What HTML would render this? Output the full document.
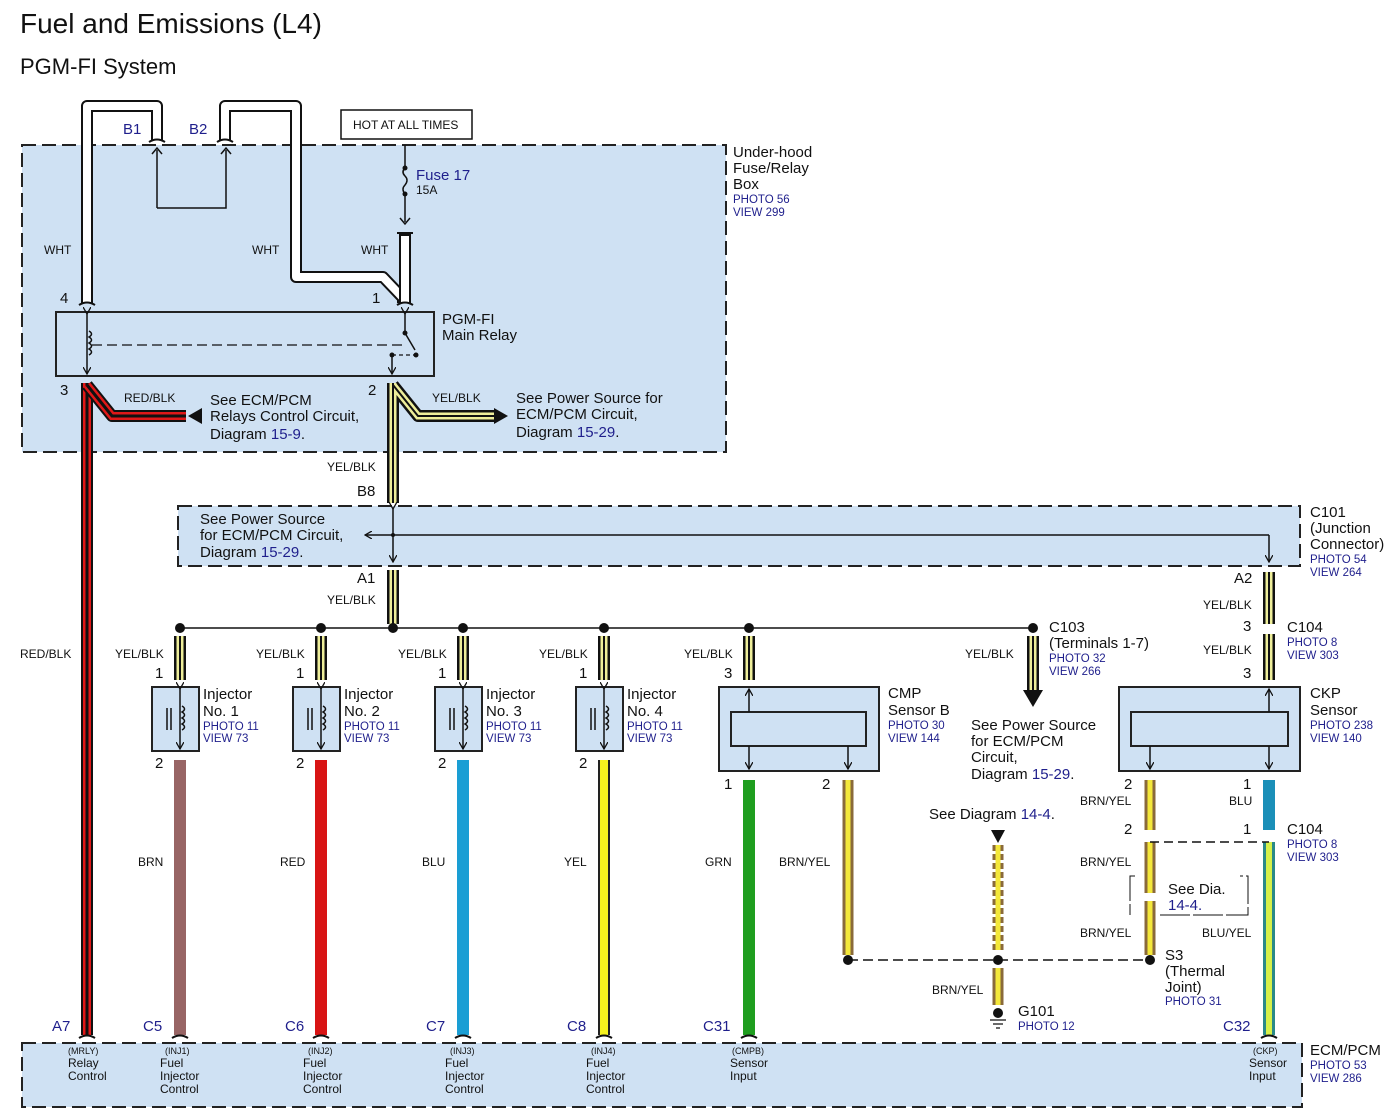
<!DOCTYPE html>
<html><head><meta charset="utf-8"><style>
html,body{margin:0;padding:0;background:#fff;}
svg{display:block;font-family:"Liberation Sans",sans-serif;}
.box{fill:#cfe1f3;stroke:#222;stroke-width:2;stroke-dasharray:14 6;}
.sol{fill:#cfe1f3;stroke:#222;stroke-width:2;}
.ln{stroke:#111;stroke-width:1.5;fill:none;}
.wo{stroke:#111;stroke-width:12;fill:none;stroke-linejoin:round;}
.ww{stroke:#fff;stroke-width:8;fill:none;stroke-linejoin:round;}
.wy{stroke:#eeee9a;stroke-width:7;fill:none;}
.wr{stroke:#e01818;stroke-width:8;fill:none;}
.wk{stroke:#111;stroke-width:2;fill:none;}
.wk3{stroke:#111;stroke-width:3;fill:none;}
.b{fill:#1f1f8c;}
.t{fill:#111;}
.s{font-size:12px;fill:#111;}
.p{font-size:11.5px;fill:#1f1f8c;}
.m{font-size:15px;fill:#111;}
</style></head><body>
<svg width="1399" height="1119" viewBox="0 0 1399 1119" xmlns="http://www.w3.org/2000/svg">
<defs>
<marker id="ah" markerWidth="8" markerHeight="8" refX="7" refY="4" orient="auto" markerUnits="userSpaceOnUse"><path d="M0,0 L7,4 L0,8" fill="none" stroke="#111" stroke-width="1.3"/></marker>
</defs>
<text x="20" y="33" font-size="28" class="t">Fuel and Emissions (L4)</text>
<text x="20" y="74" font-size="22" class="t">PGM-FI System</text>

<!-- boxes -->
<rect class="box" x="22" y="145" width="704" height="307"/>
<rect class="box" x="178" y="506" width="1122" height="60"/>
<rect class="box" x="22" y="1043" width="1280" height="64"/>

<!-- HOT box -->
<rect x="341" y="110" width="131" height="29" fill="#fff" stroke="#111" stroke-width="1.5"/>
<text x="353" y="129" font-size="12" class="t">HOT AT ALL TIMES</text>

<!-- white wires -->
<path class="wo" d="M87,303 L87,106 L157,106 L157,140"/>
<path class="ww" d="M87,303 L87,106 L157,106 L157,140"/>
<path class="wo" d="M225,140 L225,106 L296,106 L296,277 L383,277 L403,298 L403,303"/>
<path class="ww" d="M225,140 L225,106 L296,106 L296,277 L383,277 L403,298 L403,303"/>
<path class="wo" d="M405,233 L405,303"/>
<path class="ww" d="M405,236 L405,303"/>
<!-- caps -->
<g stroke="#111" stroke-width="2" fill="none">
<path d="M149,142 q8,-5 16,0"/><path d="M217,142 q8,-5 16,0"/>
<path d="M79,305 q8,-5 16,0"/><path d="M397,305 q8,-5 16,0"/>
<path d="M397,233 l16,0"/>
</g>
<!-- B1-B2 inner -->
<path class="ln" d="M157,208 L157,150 M157,208 L226,208 L226,150" />
<path class="ln" d="M152,154 l5,-6 l5,6 M221,154 l5,-6 l5,6"/>
<!-- fuse -->
<path class="ln" d="M405,145 L405,168 M405,194 L405,222"/>
<path class="ln" d="M405,168 q-4,4 0,8 q4,4 0,9 q-4,4 0,9"/>
<circle cx="405" cy="168" r="2.5" fill="#111"/><circle cx="405" cy="194" r="2.5" fill="#111"/>
<path class="ln" d="M400,218 l5,6 l5,-6"/>
<text x="416" y="180" font-size="15" class="b">Fuse 17</text>
<text x="416" y="194" class="s" font-size="11">15A</text>

<text x="44" y="254" class="s">WHT</text>
<text x="252" y="254" class="s">WHT</text>
<text x="361" y="254" class="s">WHT</text>
<text x="123" y="134" font-size="15" class="b">B1</text>
<text x="189" y="134" font-size="15" class="b">B2</text>

<text x="733" y="157" class="m">Under-hood</text>
<text x="733" y="173" class="m">Fuse/Relay</text>
<text x="733" y="189" class="m">Box</text>
<text x="733" y="203" class="p">PHOTO 56</text>
<text x="733" y="216" class="p">VIEW 299</text>

<!-- relay -->
<rect class="sol" x="56" y="312" width="378" height="64"/>
<text x="60" y="303" class="m">4</text><text x="372" y="303" class="m">1</text>
<text x="60" y="395" class="m">3</text><text x="368" y="395" class="m">2</text>
<text x="442" y="324" class="m">PGM-FI</text>
<text x="442" y="340" class="m">Main Relay</text>
<path class="ln" d="M87,314 L87,374" marker-start="url(#ah)" marker-end="url(#ah)"/>
<path class="ln" d="M89,331 q5,3 0,6 q5,3 0,6 q5,3 0,6 q5,3 0,6"/>
<path d="M92,345 L405,345" stroke="#111" stroke-width="1.2" stroke-dasharray="10 5"/>
<path class="ln" d="M405,314 L405,333 L415,350" marker-start="url(#ah)"/>
<circle cx="405" cy="333" r="2.5" fill="#111"/><circle cx="416" cy="355" r="2.5" fill="#111"/>
<path d="M392,355 L414,355" stroke="#111" stroke-width="1.2" stroke-dasharray="4 3"/>
<path class="ln" d="M392,353 L392,374" marker-end="url(#ah)"/>
<circle cx="392" cy="355" r="2.5" fill="#111"/>

<!-- red/blk -->
<path class="wo" d="M87,383 L87,1035" stroke-width="13"/>
<path class="wr" d="M87,383 L87,1035" stroke-width="9"/>
<path class="wk3" d="M87,383 L87,1035"/>
<path class="wo" d="M87,385 L112,416 L186,416" stroke-width="13"/>
<path class="wr" d="M87,385 L112,416 L186,416" stroke-width="9"/>
<path class="wk3" d="M87,385 L112,416 L186,416"/>
<path d="M188,416 L202,408 L202,424 Z" fill="#111"/>
<text x="124" y="402" class="s">RED/BLK</text>
<text x="210" y="405" class="m">See ECM/PCM</text>
<text x="210" y="421" class="m">Relays Control Circuit,</text>
<text x="210" y="439" class="m"><tspan fill="#111">Diagram </tspan><tspan class="b">15-9</tspan>.</text>
<text x="20" y="658" class="s">RED/BLK</text>

<!-- yel/blk main -->
<g>
<path class="wo" d="M393,383 L393,503 M393,570 L393,624 M393,385 L418,416 L494,416"/>
<path class="wy" d="M393,383 L393,503 M393,570 L393,624 M393,385 L418,416 L494,416"/>
<path class="wk" d="M393,383 L393,503 M393,570 L393,624 M393,385 L418,416 L494,416"/>
</g>
<path d="M508,416 L494,408 L494,424 Z" fill="#111"/>
<text x="432" y="402" class="s">YEL/BLK</text>
<text x="516" y="403" class="m">See Power Source for</text>
<text x="516" y="419" class="m">ECM/PCM Circuit,</text>
<text x="516" y="437" class="m"><tspan fill="#111">Diagram </tspan><tspan class="b">15-29</tspan>.</text>
<text x="327" y="471" class="s">YEL/BLK</text>
<text x="357" y="496" class="m">B8</text>
<text x="357" y="583" class="m">A1</text>
<text x="327" y="604" class="s">YEL/BLK</text>

<!-- C101 -->
<path class="ln" d="M393,509 L393,562" marker-start="url(#ah)" marker-end="url(#ah)"/>
<path class="ln" d="M1269,535 L365,535" marker-end="url(#ah)"/>
<path class="ln" d="M1269,535 L1269,562" marker-end="url(#ah)"/>
<circle cx="393" cy="535" r="2" fill="#111"/>
<text x="200" y="524" class="m">See Power Source</text>
<text x="200" y="540" class="m">for ECM/PCM Circuit,</text>
<text x="200" y="557" class="m"><tspan fill="#111">Diagram </tspan><tspan class="b">15-29</tspan>.</text>
<text x="1310" y="517" class="m">C101</text>
<text x="1310" y="533" class="m">(Junction</text>
<text x="1310" y="549" class="m">Connector)</text>
<text x="1310" y="563" class="p">PHOTO 54</text>
<text x="1310" y="576" class="p">VIEW 264</text>

<!-- bus -->
<path class="ln" d="M180,628 L1033,628"/>
<g fill="#111">
<circle cx="180" cy="628" r="5"/><circle cx="321" cy="628" r="5"/><circle cx="393" cy="628" r="5"/>
<circle cx="463" cy="628" r="5"/><circle cx="604" cy="628" r="5"/><circle cx="749" cy="628" r="5"/><circle cx="1033" cy="628" r="5"/>
</g>

<!-- short yel/blk stubs -->
<g>
<path class="wo" d="M180,636 L180,680 M321,636 L321,680 M463,636 L463,680 M604,636 L604,680 M749,636 L749,680 M1033,636 L1033,690 M1269,572 L1269,624 M1269,634 L1269,680"/>
<path class="wy" d="M180,636 L180,680 M321,636 L321,680 M463,636 L463,680 M604,636 L604,680 M749,636 L749,680 M1033,636 L1033,690 M1269,572 L1269,624 M1269,634 L1269,680"/>
<path class="wk" d="M180,636 L180,680 M321,636 L321,680 M463,636 L463,680 M604,636 L604,680 M749,636 L749,680 M1033,636 L1033,690 M1269,572 L1269,624 M1269,634 L1269,680"/>
</g>
<path d="M1023,690 L1043,690 L1033,707 Z" fill="#111"/>

<!-- injector labels -->
<text x="115" y="658" class="s">YEL/BLK</text><text x="256" y="658" class="s">YEL/BLK</text>
<text x="398" y="658" class="s">YEL/BLK</text><text x="539" y="658" class="s">YEL/BLK</text>
<text x="684" y="658" class="s">YEL/BLK</text><text x="965" y="658" class="s">YEL/BLK</text>
<text x="155" y="678" class="m">1</text><text x="296" y="678" class="m">1</text><text x="438" y="678" class="m">1</text><text x="579" y="678" class="m">1</text><text x="724" y="678" class="m">3</text>

<!-- injectors -->
<g>
<rect class="sol" x="152" y="687" width="47" height="64"/>
<rect class="sol" x="293" y="687" width="47" height="64"/>
<rect class="sol" x="435" y="687" width="47" height="64"/>
<rect class="sol" x="576" y="687" width="47" height="64"/>
</g>
<g>
<path class="ln" d="M180,689 L180,749" marker-start="url(#ah)" marker-end="url(#ah)"/>
<path class="ln" d="M321,689 L321,749" marker-start="url(#ah)" marker-end="url(#ah)"/>
<path class="ln" d="M463,689 L463,749" marker-start="url(#ah)" marker-end="url(#ah)"/>
<path class="ln" d="M604,689 L604,749" marker-start="url(#ah)" marker-end="url(#ah)"/>
<path class="ln" d="M167,708 L167,730 M171,708 L171,730 M308,708 L308,730 M312,708 L312,730 M450,708 L450,730 M454,708 L454,730 M591,708 L591,730 M595,708 L595,730"/>
<path class="ln" d="M182,706 q5,3 0,6 q5,3 0,6 q5,3 0,6 q5,3 0,6 M323,706 q5,3 0,6 q5,3 0,6 q5,3 0,6 q5,3 0,6 M465,706 q5,3 0,6 q5,3 0,6 q5,3 0,6 q5,3 0,6 M606,706 q5,3 0,6 q5,3 0,6 q5,3 0,6 q5,3 0,6"/>
</g>
<g>
<text x="203" y="699" class="m">Injector</text><text x="203" y="716" class="m">No. 1</text><text x="203" y="730" class="p">PHOTO 11</text><text x="203" y="742" class="p">VIEW 73</text>
<text x="344" y="699" class="m">Injector</text><text x="344" y="716" class="m">No. 2</text><text x="344" y="730" class="p">PHOTO 11</text><text x="344" y="742" class="p">VIEW 73</text>
<text x="486" y="699" class="m">Injector</text><text x="486" y="716" class="m">No. 3</text><text x="486" y="730" class="p">PHOTO 11</text><text x="486" y="742" class="p">VIEW 73</text>
<text x="627" y="699" class="m">Injector</text><text x="627" y="716" class="m">No. 4</text><text x="627" y="730" class="p">PHOTO 11</text><text x="627" y="742" class="p">VIEW 73</text>
</g>
<text x="155" y="768" class="m">2</text><text x="296" y="768" class="m">2</text><text x="438" y="768" class="m">2</text><text x="579" y="768" class="m">2</text>

<!-- colored wires -->
<path d="M180,760 L180,1035" stroke="#986565" stroke-width="12"/>
<path d="M321,760 L321,1035" stroke="#d81414" stroke-width="12"/>
<path d="M463,760 L463,1035" stroke="#1a9ed4" stroke-width="12"/>
<path d="M604,760 L604,1035" stroke="#222" stroke-width="12"/><path d="M604,760 L604,1035" stroke="#f6f21e" stroke-width="8"/>
<path d="M749,780 L749,1035" stroke="#1f9e1f" stroke-width="12"/>
<text x="138" y="866" class="s">BRN</text><text x="280" y="866" class="s">RED</text><text x="422" y="866" class="s">BLU</text><text x="564" y="866" class="s">YEL</text><text x="705" y="866" class="s">GRN</text>

<!-- CMP -->
<rect class="sol" x="719" y="687" width="160" height="84"/>
<rect class="sol" x="731" y="712" width="135" height="34"/>
<path class="ln" d="M749,712 L749,689" marker-end="url(#ah)"/>
<path class="ln" d="M749,746 L749,769" marker-end="url(#ah)"/>
<path class="ln" d="M848,746 L848,769" marker-end="url(#ah)"/>
<text x="888" y="698" class="m">CMP</text><text x="888" y="715" class="m">Sensor B</text>
<text x="888" y="729" class="p">PHOTO 30</text><text x="888" y="742" class="p">VIEW 144</text>
<text x="724" y="789" class="m">1</text><text x="822" y="789" class="m">2</text>

<!-- C103 -->
<text x="1049" y="632" class="m">C103</text>
<text x="1049" y="648" class="m">(Terminals 1-7)</text>
<text x="1049" y="662" class="p">PHOTO 32</text><text x="1049" y="675" class="p">VIEW 266</text>
<text x="971" y="730" class="m">See Power Source</text>
<text x="971" y="746" class="m">for ECM/PCM</text>
<text x="971" y="762" class="m">Circuit,</text>
<text x="971" y="779" class="m"><tspan fill="#111">Diagram </tspan><tspan class="b">15-29</tspan>.</text>

<!-- CKP -->
<rect class="sol" x="1119" y="687" width="181" height="84"/>
<rect class="sol" x="1131" y="712" width="157" height="34"/>
<path class="ln" d="M1269,712 L1269,689" marker-end="url(#ah)"/>
<path class="ln" d="M1269,746 L1269,769" marker-end="url(#ah)"/>
<path class="ln" d="M1150,746 L1150,769" marker-end="url(#ah)"/>
<text x="1310" y="698" class="m">CKP</text><text x="1310" y="715" class="m">Sensor</text>
<text x="1310" y="729" class="p">PHOTO 238</text><text x="1310" y="742" class="p">VIEW 140</text>
<text x="1234" y="583" class="m">A2</text>
<text x="1203" y="609" class="s">YEL/BLK</text>
<text x="1243" y="631" class="m">3</text>
<text x="1287" y="632" class="m">C104</text>
<text x="1287" y="646" class="p">PHOTO 8</text><text x="1287" y="659" class="p">VIEW 303</text>
<text x="1203" y="654" class="s">YEL/BLK</text>
<text x="1243" y="678" class="m">3</text>

<!-- brn/yel wires -->
<g>
<path d="M848,780 L848,955 M1150,780 L1150,830 M1150,842 L1150,955 M998,968 L998,1005" stroke="#8a6a3a" stroke-width="11"/>
<path d="M848,780 L848,955 M1150,780 L1150,830 M1150,842 L1150,955 M998,968 L998,1005" stroke="#f4e83a" stroke-width="5"/>
<path d="M998,845 L998,950" stroke="#8a6a3a" stroke-width="11" stroke-dasharray="6 3"/>
<path d="M998,845 L998,950" stroke="#f4e83a" stroke-width="5"/>
</g>
<path d="M991,830 L1005,830 L998,843 Z" fill="#111"/>
<text x="929" y="819" class="m">See Diagram <tspan class="b">14-4</tspan>.</text>
<path d="M1269,780 L1269,830" stroke="#1b8fb8" stroke-width="12"/>
<path d="M1269,842 L1269,1035" stroke="#2a8a88" stroke-width="12"/>
<path d="M1269,842 L1269,1035" stroke="#d6f04a" stroke-width="6"/>
<path d="M1150,842 L1269,842" stroke="#111" stroke-width="1.5" stroke-dasharray="9 5"/>
<path d="M848,960 L1150,960" stroke="#111" stroke-width="1.5" stroke-dasharray="10 5"/>
<circle cx="848" cy="960" r="5" fill="#111"/><circle cx="998" cy="960" r="5" fill="#111"/><circle cx="1150" cy="960" r="5" fill="#111"/>
<text x="779" y="866" class="s">BRN/YEL</text>
<text x="1080" y="805" class="s">BRN/YEL</text>
<text x="1080" y="866" class="s">BRN/YEL</text>
<text x="1080" y="937" class="s">BRN/YEL</text>
<text x="932" y="994" class="s">BRN/YEL</text>
<text x="1229" y="805" class="s">BLU</text>
<text x="1202" y="937" class="s">BLU/YEL</text>
<text x="1124" y="789" class="m">2</text><text x="1243" y="789" class="m">1</text>
<text x="1124" y="834" class="m">2</text><text x="1243" y="834" class="m">1</text>
<text x="1287" y="834" class="m">C104</text>
<text x="1287" y="848" class="p">PHOTO 8</text><text x="1287" y="861" class="p">VIEW 303</text>
<path d="M1135,876 L1130,876 L1130,915 M1160,915 L1248,915 L1248,876 L1240,876" stroke="#111" stroke-width="1" fill="none" stroke-dasharray="30 3"/>
<rect x="1143" y="893" width="14" height="8" fill="#fff"/>
<text x="1168" y="894" class="m">See Dia.</text>
<text x="1168" y="910" class="m" style="fill:#1f1f8c">14-4.</text>
<text x="1165" y="960" class="m">S3</text>
<text x="1165" y="976" class="m">(Thermal</text>
<text x="1165" y="992" class="m">Joint)</text>
<text x="1165" y="1005" class="p">PHOTO 31</text>
<!-- ground -->
<circle cx="998" cy="1013" r="5" fill="#111"/>
<path d="M990,1020 L1006,1020 M993,1024 L1003,1024 M996,1028 L1000,1028" stroke="#111" stroke-width="1.3"/>
<text x="1018" y="1016" class="m">G101</text>
<text x="1018" y="1030" class="p">PHOTO 12</text>

<!-- ECM terminals -->
<g stroke="#111" stroke-width="2" fill="none">
<path d="M79,1038 q8,-5 16,0 M172,1038 q8,-5 16,0 M313,1038 q8,-5 16,0 M455,1038 q8,-5 16,0 M596,1038 q8,-5 16,0 M741,1038 q8,-5 16,0 M1261,1038 q8,-5 16,0"/>
</g>
<text x="52" y="1031" font-size="15" class="b">A7</text>
<text x="143" y="1031" font-size="15" class="b">C5</text>
<text x="285" y="1031" font-size="15" class="b">C6</text>
<text x="426" y="1031" font-size="15" class="b">C7</text>
<text x="567" y="1031" font-size="15" class="b">C8</text>
<text x="703" y="1031" font-size="15" class="b">C31</text>
<text x="1223" y="1031" font-size="15" class="b">C32</text>
<g font-size="12" fill="#111">
<text x="68" y="1054" font-size="9">(MRLY)</text><text x="68" y="1067">Relay</text><text x="68" y="1080">Control</text>
<text x="165" y="1054" font-size="9">(INJ1)</text><text x="160" y="1067">Fuel</text><text x="160" y="1080">Injector</text><text x="160" y="1093">Control</text>
<text x="308" y="1054" font-size="9">(INJ2)</text><text x="303" y="1067">Fuel</text><text x="303" y="1080">Injector</text><text x="303" y="1093">Control</text>
<text x="450" y="1054" font-size="9">(INJ3)</text><text x="445" y="1067">Fuel</text><text x="445" y="1080">Injector</text><text x="445" y="1093">Control</text>
<text x="591" y="1054" font-size="9">(INJ4)</text><text x="586" y="1067">Fuel</text><text x="586" y="1080">Injector</text><text x="586" y="1093">Control</text>
<text x="732" y="1054" font-size="9">(CMPB)</text><text x="730" y="1067">Sensor</text><text x="730" y="1080">Input</text>
<text x="1253" y="1054" font-size="9">(CKP)</text><text x="1249" y="1067">Sensor</text><text x="1249" y="1080">Input</text>
</g>
<text x="1310" y="1055" class="m">ECM/PCM</text>
<text x="1310" y="1069" class="p">PHOTO 53</text><text x="1310" y="1082" class="p">VIEW 286</text>
</svg>
</body></html>
